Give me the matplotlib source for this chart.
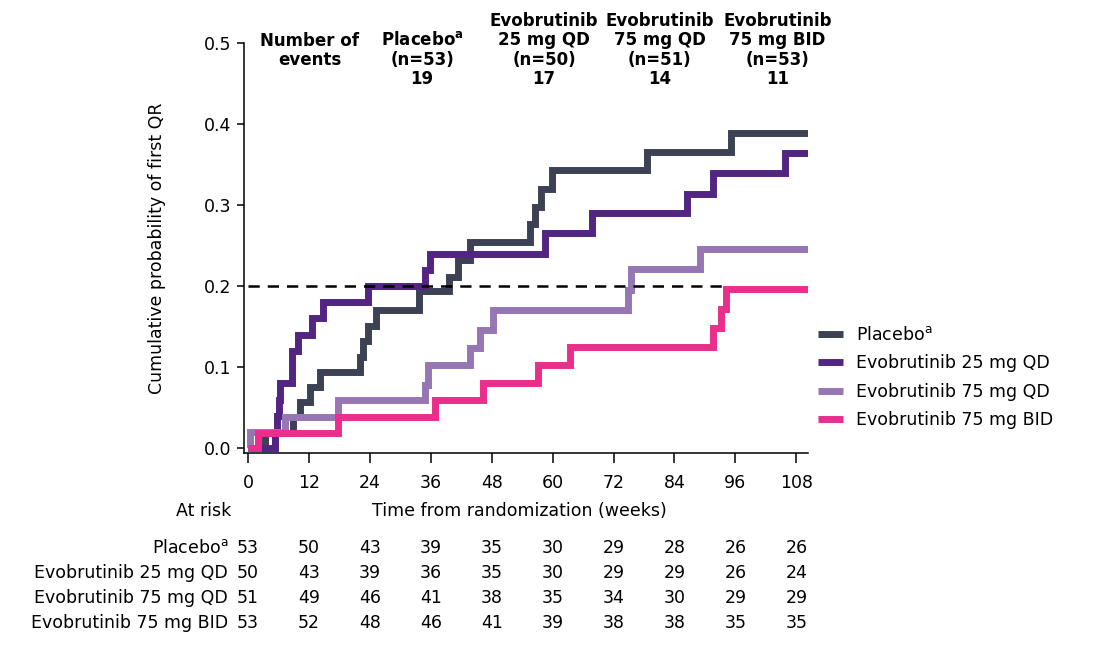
import matplotlib
matplotlib.use("Agg")
import matplotlib.pyplot as plt
from matplotlib.transforms import blended_transform_factory

# ---- data ----
arm_names = ["Placebo$^{\\mathregular{a}}$", "Evobrutinib 25 mg QD",
             "Evobrutinib 75 mg QD", "Evobrutinib 75 mg BID"]
arm_colors = ["#3c4253", "#532582", "#9677b4", "#ea2e8c"]

placebo_t = [0, 3.3, 8.9, 10.2, 12.2, 14.2, 22.0, 22.6, 23.7, 25.3, 33.7, 39.5,
             41.4, 43.7, 55.5, 56.6, 57.8, 59.8, 78.5, 95.2, 110.3]
placebo_p = [0, 0.019, 0.038, 0.057, 0.075, 0.094, 0.113, 0.132, 0.151, 0.170,
             0.194, 0.211, 0.232, 0.255, 0.277, 0.298, 0.320, 0.343, 0.366, 0.389, 0.389]

qd25_t = [0, 5.4, 5.7, 6.0, 6.3, 8.6, 9.9, 12.5, 14.8, 23.7, 34.8, 35.8,
          58.5, 67.7, 86.4, 91.6, 105.7, 110.3]
qd25_p = [0, 0.02, 0.04, 0.06, 0.08, 0.12, 0.14, 0.16, 0.18, 0.20, 0.22, 0.24,
          0.265, 0.29, 0.314, 0.339, 0.364, 0.364]

qd75_t = [0, 0.4, 7.3, 17.8, 34.8, 35.5, 43.7, 45.7, 48.3, 74.8, 75.5, 89.0, 110.3]
qd75_p = [0, 0.0196, 0.039, 0.059, 0.078, 0.102, 0.123, 0.146, 0.170, 0.195,
          0.221, 0.246, 0.246]

bid75_t = [0, 2.0, 17.8, 36.9, 46.3, 57.1, 63.4, 91.6, 93.2, 94.2, 110.3]
bid75_p = [0, 0.019, 0.039, 0.059, 0.080, 0.102, 0.125, 0.148, 0.172, 0.197, 0.197]

ref_level = 0.2
ref_end = 93.6

header_cols = ["Number of\nevents",
               "Placebo$^{\\mathregular{a}}$\n(n=53)\n19",
               "Evobrutinib\n25 mg QD\n(n=50)\n17",
               "Evobrutinib\n75 mg QD\n(n=51)\n14",
               "Evobrutinib\n75 mg BID\n(n=53)\n11"]
header_x = [12.2, 34.3, 58.3, 81.1, 104.3]

weeks = [0, 12, 24, 36, 48, 60, 72, 84, 96, 108]
at_risk = [
    [53, 50, 43, 39, 35, 30, 29, 28, 26, 26],
    [50, 43, 39, 36, 35, 30, 29, 29, 26, 24],
    [51, 49, 46, 41, 38, 35, 34, 30, 29, 29],
    [53, 52, 48, 46, 41, 39, 38, 38, 35, 35],
]

# ---- figure ----
W, H = 1101, 648
fig = plt.figure(figsize=(W / 100, H / 100), dpi=100)
ax = fig.add_axes([244 / W, 1 - 453 / H, 564 / W, 410 / H])

def fy(py):
    return 1 - py / H

fs = 12.5
series = [(placebo_t, placebo_p), (qd25_t, qd25_p), (qd75_t, qd75_p), (bid75_t, bid75_p)]
for (t, p), name, col in zip(series, arm_names, arm_colors):
    ax.step(t, p, where="post", color=col, lw=5, label=name,
            solid_capstyle="butt", solid_joinstyle="miter")

ax.hlines(ref_level, 0, ref_end, colors="black", lw=1.8, linestyles=(0, (4.5, 3.2)), zorder=5)

ax.set_xlim(-0.8, 110.3)
ax.set_ylim(-0.006, 0.5)
ax.set_xticks(weeks)
ax.set_yticks([0, 0.1, 0.2, 0.3, 0.4, 0.5])
ax.set_yticklabels([f"{v:.1f}" for v in [0, 0.1, 0.2, 0.3, 0.4, 0.5]])
ax.tick_params(axis="both", labelsize=fs, width=1.1, direction="out")
ax.tick_params(axis="x", length=7, pad=8)
ax.tick_params(axis="y", length=5, pad=4)
for s in ["top", "right"]:
    ax.spines[s].set_visible(False)
for s in ["left", "bottom"]:
    ax.spines[s].set_linewidth(1.1)

fig.text(157 / W, fy(248), "Cumulative probability of first QR", rotation=90,
         ha="center", va="center", fontsize=fs)

leg = ax.legend(loc="upper left", bbox_to_anchor=(818 / W, fy(326)),
                bbox_transform=fig.transFigure, frameon=False, fontsize=fs,
                handlelength=1.45, handletextpad=0.75, labelspacing=0.6,
                borderaxespad=0, borderpad=0)
for line in leg.get_lines():
    line.set_linewidth(5)
    line.set_solid_capstyle("butt")

# header
tr = blended_transform_factory(ax.transData, fig.transFigure)
header_base = [fy(65), fy(84), fy(84), fy(84), fy(84)]
for txt, x, yb in zip(header_cols, header_x, header_base):
    ax.text(x, yb, txt, transform=tr, ha="center", va="baseline",
            fontsize=12, fontweight="bold", linespacing=1.09, clip_on=False)

# x label and at-risk table
ax.text(53.5, fy(511), "Time from randomization (weeks)", transform=tr,
        ha="center", va="center", fontsize=fs)
fig.text(204 / W, fy(511), "At risk", ha="center", va="center", fontsize=fs)

row_y = [548, 573, 598, 623]
for name, counts, py in zip(arm_names, at_risk, row_y):
    fig.text(228 / W, fy(py), name, ha="right", va="center", fontsize=fs)
    for wk, n in zip(weeks, counts):
        ax.text(wk, fy(py), str(n), transform=tr, ha="center", va="center", fontsize=fs)

fig.savefig("out.png", dpi=100)
